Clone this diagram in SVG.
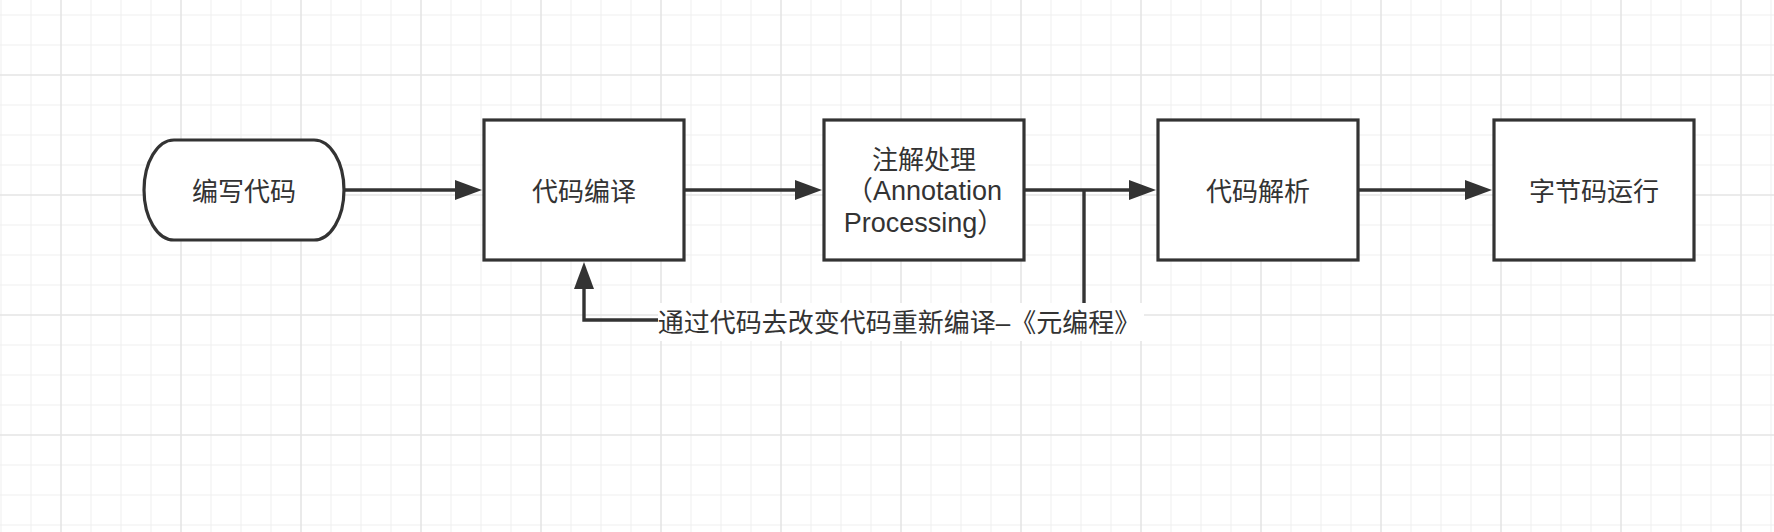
<svg xmlns="http://www.w3.org/2000/svg" width="1774" height="532" viewBox="0 0 1774 532">
<style>
.node{fill:#fff;stroke:#333;stroke-width:3.2}
.t{font-family:"Liberation Sans","Noto Sans CJK SC",sans-serif;font-size:26px;fill:#333;text-anchor:middle}
.edge{fill:none;stroke:#333;stroke-width:3.4}
</style>
<defs>
<pattern id="grid" patternUnits="userSpaceOnUse" x="60" y="74" width="120" height="120">
<rect width="120" height="120" fill="#fff"/>
<path d="M31 0V120M61 0V120M91 0V120M0 31H120M0 61H120M0 91H120" stroke="#efefef" stroke-width="1"/>
<path d="M1 0V120M0 1H120" stroke="#e5e5e5" stroke-width="1.6"/>
</pattern>
<marker id="arr" markerUnits="userSpaceOnUse" viewBox="0 0 28 20" refX="0" refY="10" markerWidth="28" markerHeight="20" orient="auto">
<path d="M0 0L27 10L0 20Z" fill="#333"/>
</marker>
</defs>
<rect width="1774" height="532" fill="url(#grid)"/>
<g id="edges">
<path class="edge" d="M344 190H455" marker-end="url(#arr)"/>
<path class="edge" d="M684 190H795" marker-end="url(#arr)"/>
<path class="edge" d="M1024 190H1129" marker-end="url(#arr)"/>
<path class="edge" d="M1358 190H1465" marker-end="url(#arr)"/>
<path class="edge" d="M1084 190V320H584V289" marker-end="url(#arr)"/>
</g>
<g id="edge-label">
<rect x="658" y="303" width="486" height="38" fill="#fff"/>
<text class="t" x="899" y="332">通过代码去改变代码重新编译–《元编程》</text>
</g>
<g id="n1">
<path class="node" d="M174 140H314A30 50 0 0 1 314 240H174A30 50 0 0 1 174 140Z"/>
<text class="t" x="244" y="201">编写代码</text>
</g>
<g id="n2">
<rect class="node" x="484" y="120" width="200" height="140"/>
<text class="t" x="584" y="201">代码编译</text>
</g>
<g id="n3">
<rect class="node" x="824" y="120" width="200" height="140"/>
<text class="t" x="924" y="168.5">注解处理</text>
<text class="t" x="924" y="200" style="font-size:27px">（Annotation</text>
<text class="t" x="924" y="231.5" style="font-size:27px">Processing）</text>
</g>
<g id="n4">
<rect class="node" x="1158" y="120" width="200" height="140"/>
<text class="t" x="1258" y="201">代码解析</text>
</g>
<g id="n5">
<rect class="node" x="1494" y="120" width="200" height="140"/>
<text class="t" x="1594" y="201">字节码运行</text>
</g>
</svg>
